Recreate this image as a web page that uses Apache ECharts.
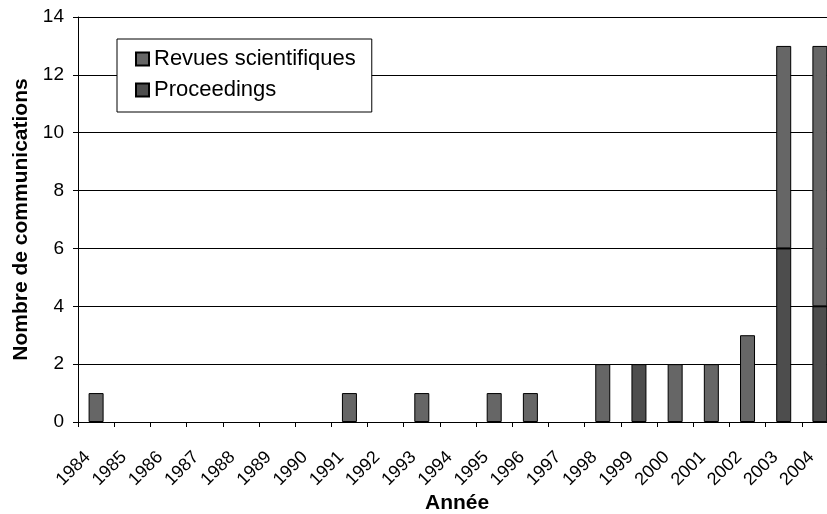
<!DOCTYPE html>
<html>
<head>
<meta charset="utf-8">
<script src="https://cdn.jsdelivr.net/npm/echarts@6/dist/echarts.min.js"></script>
<style>
html,body{margin:0;padding:0;background:#fff;}
#chart{width:827px;height:514px;}
</style>
</head>
<body>
<div id="chart"></div>
<script>
var years = ['1984','1985','1986','1987','1988','1989','1990','1991','1992','1993','1994',
	'1995','1996','1997','1998','1999','2000','2001','2002','2003','2004'];
var revues =      [1,0,0,0,0,0,0,1,0,1,0,1,1,0,2,0,2,2,3,7,9];
var proceedings = [0,0,0,0,0,0,0,0,0,0,0,0,0,0,0,2,0,0,0,6,4];
var yTicks = {min: 0, max: 14, interval: 2};

// empty years: draw nothing instead of a flat 0-height bar
function noZero(arr){
	return arr.map(function(v){ return v === 0 ? null : v; });
}

var font = '"Liberation Sans", Arial, sans-serif';
var chart = echarts.init(document.getElementById('chart'));
var option = {
	animation: false,
	textStyle: {fontFamily: font, color: '#000'},
	grid: {left: 78, top: 17, width: 760, height: 405, containLabel: false, outerBoundsMode: 'none'},
	legend: {
		orient: 'vertical',
		left: 117,
		top: 39,
		data: ['Revues scientifiques', 'Proceedings'],
		backgroundColor: '#fff',
		borderColor: '#000',
		borderWidth: 1,
		padding: [9, 16, 11, 18],
		itemGap: 9,
		itemWidth: 13,
		itemHeight: 13,
		itemTextGap: 6,
		icon: 'rect',
		textStyle: {fontFamily: font, fontSize: 22, color: '#000'}
	},
	// x axis title placed by hand: the axis name gets pushed below the rotated labels
	graphic: [{
		type: 'text',
		left: 425,
		top: 493,
		style: {text: 'Année', font: 'bold 21px ' + font, fill: '#000'}
	}],
	xAxis: {
		type: 'category',
		data: years,
		axisLine: {lineStyle: {color: '#000', width: 1}},
		axisTick: {show: true, length: 5, lineStyle: {color: '#000'}},
		axisLabel: {interval: 0, rotate: 45, margin: 24, padding: [0, 12, 0, 0], fontSize: 18, color: '#000', fontFamily: font}
	},
	yAxis: {
		type: 'value',
		min: yTicks.min,
		max: yTicks.max,
		interval: yTicks.interval,
		name: 'Nombre de communications',
		nameLocation: 'middle',
		nameGap: 46,
		nameRotate: 90,
		nameTextStyle: {fontFamily: font, fontSize: 21, fontWeight: 'bold', color: '#000'},
		axisLine: {show: true, lineStyle: {color: '#000', width: 1}},
		axisTick: {show: true, length: 5, lineStyle: {color: '#000'}},
		axisLabel: {margin: 14, fontSize: 19, color: '#000', fontFamily: font},
		splitLine: {show: true, lineStyle: {color: '#000', width: 1}}
	},
	series: [
		{
			name: 'Proceedings',
			type: 'bar',
			stack: 'total',
			barWidth: 15,
			data: noZero(proceedings),
			itemStyle: {color: '#4d4d4d', borderColor: '#000', borderWidth: 1}
		},
		{
			name: 'Revues scientifiques',
			type: 'bar',
			stack: 'total',
			barWidth: 15,
			data: noZero(revues),
			itemStyle: {color: '#666666', borderColor: '#000', borderWidth: 1}
		}
	]
};
chart.setOption(option);
</script>
</body>
</html>
